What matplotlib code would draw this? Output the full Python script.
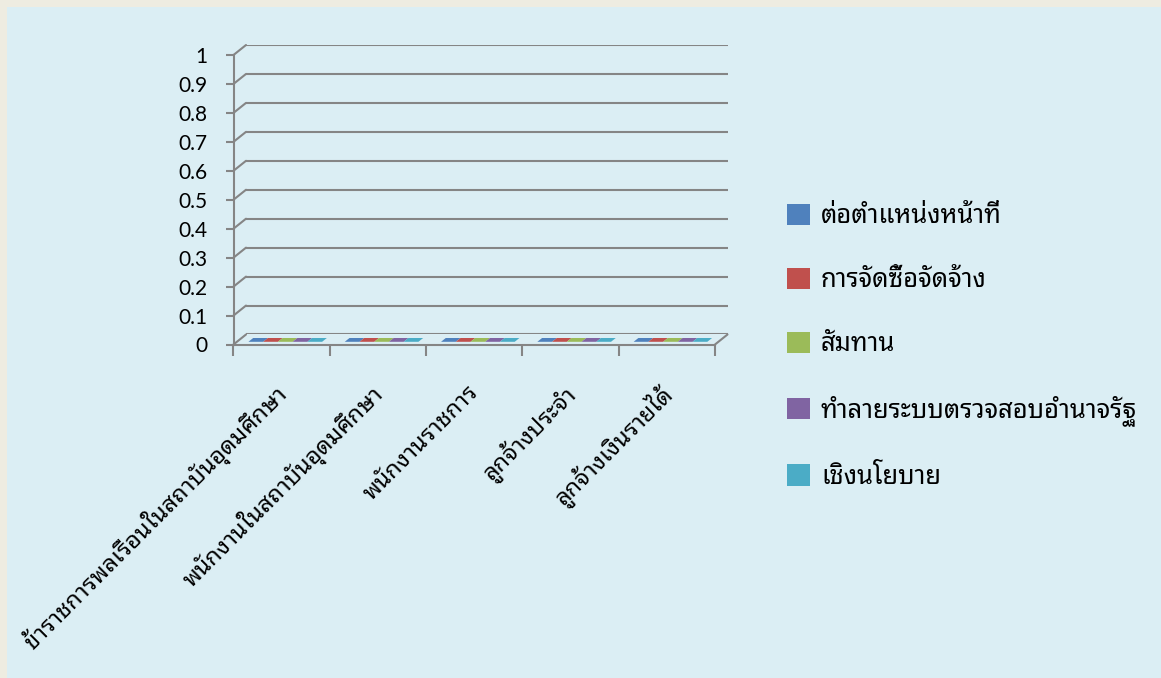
import matplotlib
matplotlib.use("Agg")
import matplotlib.pyplot as plt
from matplotlib import font_manager
from matplotlib.ft2font import FT2Font
from matplotlib.patches import Patch, Polygon, Rectangle, ConnectionPatch
from matplotlib.transforms import IdentityTransform, ScaledTranslation
import numpy as np

categories = ["ข้าราชการพลเรือนในสถาบันอุดมศึกษา", "พนักงานในสถาบันอุดมศึกษา",
              "พนักงานราชการ", "ลูกจ้างประจำ", "ลูกจ้างเงินรายได้"]
series = ["ต่อตำแหน่งหน้าที่", "การจัดซื้อจัดจ้าง", "สัมทาน",
          "ทำลายระบบตรวจสอบอำนาจรัฐ", "เชิงนโยบาย"]
values = [
    [0, 0, 0, 0, 0],
    [0, 0, 0, 0, 0],
    [0, 0, 0, 0, 0],
    [0, 0, 0, 0, 0],
    [0, 0, 0, 0, 0],
]
colors = ["#4F81BD", "#C0504D", "#9BBB59", "#8064A2", "#4BACC6"]
yticks = [0, 0.1, 0.2, 0.3, 0.4, 0.5, 0.6, 0.7, 0.8, 0.9, 1]
ytick_labels = ["0", "0.1", "0.2", "0.3", "0.4", "0.5", "0.6", "0.7", "0.8", "0.9", "1"]


def find_thai_font():
    preferred = ["Tahoma", "Leelawadee UI", "Leelawadee", "Noto Sans Thai Looped", "Loma",
                 "Waree", "Garuda", "Noto Sans Thai", "Sarabun", "Norasi", "Kinnari"]
    found = []
    for f in font_manager.fontManager.ttflist:
        try:
            cmap = FT2Font(f.fname).get_charmap()
        except Exception:
            continue
        if 0x0E01 in cmap and 0x0E49 in cmap:
            found.append(f.name)
    for name in preferred:
        if name in found:
            return name
    return found[0] if found else None


thai = find_thai_font()
text_family = [thai, "DejaVu Sans"] if thai else ["DejaVu Sans"]

W, H = 1161, 678
fig = plt.figure(figsize=(W / 100, H / 100), dpi=100)
fig.patch.set_facecolor("#EEECE1")
fig.patches.append(Rectangle((7 / W, 0), 1, 1 - 7 / H, transform=fig.transFigure,
                             facecolor="#DBEEF4", edgecolor="none", zorder=-5))

gray = "#858585"
dx, dy = 12.5, 10  # depth offset of the back wall, pixels

front = [233.5 / W, (H - 344.5) / H, (715 - 233.5) / W, (344.5 - 55) / H]
back = [front[0] + dx / W, front[1] + dy / H, front[2], front[3]]

ax_back = fig.add_axes(back)
ax = fig.add_axes(front)
for a in (ax, ax_back):
    a.set_xlim(-0.5, 4.5)
    a.set_ylim(0, 1)
    a.patch.set_alpha(0)

ax_back.axis("off")
for t in yticks:
    ax_back.axhline(t, color=gray, lw=1.5, zorder=1)
    fig.add_artist(ConnectionPatch(xyA=(-0.5, t), coordsA=ax.transData,
                                   xyB=(-0.5, t), coordsB=ax_back.transData,
                                   color=gray, lw=1.5))
# right edge of the floor
fig.add_artist(ConnectionPatch(xyA=(4.5, 0), coordsA=ax.transData,
                               xyB=(4.5, 0), coordsB=ax_back.transData,
                               color=gray, lw=1.5))

# bars: zero-height columns, the top face drawn as a parallelogram on the floor
bw = 0.153
start = -0.5 + 0.12
d0, d1 = 0.27, 0.65
x = np.arange(len(categories))
for i, s in enumerate(series):
    vals = [values[j][i] for j in range(len(categories))]
    xs = x + start + i * bw + bw / 2
    ax.bar(xs, vals, width=bw, color=colors[i], zorder=3)
    for xc, v in zip(xs, vals):
        pts = []
        for xx, d in [(xc - bw / 2, d0), (xc + bw / 2, d0), (xc + bw / 2, d1), (xc - bw / 2, d1)]:
            pf = ax.transData.transform((xx, v))
            pb = ax_back.transData.transform((xx, v))
            pts.append(pf + d * (pb - pf))
        fig.add_artist(Polygon(pts, closed=True, transform=IdentityTransform(),
                               facecolor=colors[i], edgecolor="none", zorder=4))

for side in ("top", "right"):
    ax.spines[side].set_visible(False)
for side in ("left", "bottom"):
    ax.spines[side].set_color(gray)
    ax.spines[side].set_linewidth(1.5)

ax.set_yticks(yticks)
ax.set_yticklabels(ytick_labels, fontsize=15, family="Lato")
ax.tick_params(axis="y", length=6, width=1.5, color=gray, pad=13)

ax.set_xticks(x)
ax.set_xticks(np.arange(-0.5, len(categories), 1), minor=True)
ax.set_xticklabels(categories, rotation=45, ha="right", va="top",
                   rotation_mode="anchor", fontsize=17, family=text_family)
ax.tick_params(axis="x", which="major", length=0, pad=26)
ax.tick_params(axis="x", which="minor", length=8, width=1.5, color=gray)
shift = ScaledTranslation(-8 / 100, 0, fig.dpi_scale_trans)
for lbl in ax.get_xticklabels():
    lbl.set_transform(lbl.get_transform() + shift)

handles = [Patch(facecolor=c, edgecolor="none") for c in colors]
fig.legend(handles, series, loc="upper left", bbox_to_anchor=(787 / W, 1 - 204 / H),
           frameon=False, prop={"family": text_family, "size": 18.4},
           handlelength=0.9, handleheight=0.9, handletextpad=0.43,
           labelspacing=1.5, borderpad=0, borderaxespad=0)

fig.savefig("out.png", dpi=100, facecolor=fig.get_facecolor())
